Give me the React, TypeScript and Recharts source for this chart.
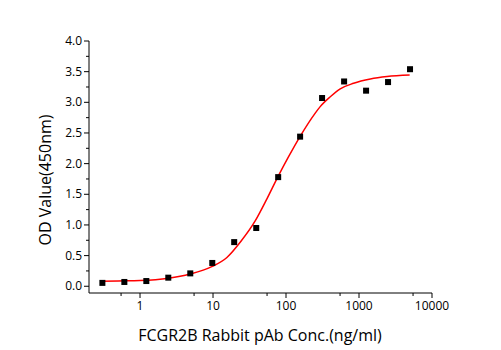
import React from "react";
import { ComposedChart, XAxis, YAxis, Line, Scatter, Label } from "recharts";

// measured points (ng/ml vs OD450)
const concentrations = [0.305, 0.61, 1.22, 2.44, 4.88, 9.77, 19.5, 39.1, 78.1, 156, 312, 625, 1250, 2500, 5000];
const odValues = [0.055, 0.07, 0.085, 0.14, 0.21, 0.38, 0.72, 0.95, 1.78, 2.44, 3.07, 3.34, 3.19, 3.33, 3.54];

// fitted curve
const curveX = [0.3, 0.5, 1, 2.45, 4.85, 9.6, 15.5, 24, 38, 55, 77, 108, 157, 250, 294, 404, 553, 843, 1430, 2420, 4940];
const curveY = [0.082, 0.087, 0.093, 0.13, 0.2, 0.32, 0.47, 0.73, 1.07, 1.43, 1.78, 2.11, 2.45, 2.82, 2.93, 3.09, 3.22, 3.31, 3.38, 3.42, 3.445];

const xMajorTicks = [1, 10, 100, 1000, 10000];
const xMinorTicks = [0.55, 5.5, 55, 550, 5500];
const yMajorTicks = [0, 0.5, 1, 1.5, 2, 2.5, 3, 3.5, 4];
const yMinorTicks = [0.25, 0.75, 1.25, 1.75, 2.25, 2.75, 3.25, 3.75];

const FONT = "'Open Sans', 'DejaVu Sans', sans-serif";

const points = concentrations.map((x, i) => ({ x, y: odValues[i] }));
const curve = curveX.map((x, i) => ({ x, y: curveY[i] }));

function XTick(props: any) {
  const { x, y, payload } = props;
  const major = xMajorTicks.includes(payload.value);
  return (
    <g>
      <line x1={x} x2={x} y1={y} y2={y + (major ? 5 : 3)} stroke="#000" />
      {major && (
        <text x={x} y={y + 17} textAnchor="middle" fontSize={12} fontFamily={FONT} fill="#000">
          {payload.value}
        </text>
      )}
    </g>
  );
}

function YTick(props: any) {
  const { x, y, payload } = props;
  const major = yMajorTicks.includes(payload.value);
  return (
    <g>
      <line x1={x - (major ? 5 : 3)} x2={x} y1={y} y2={y} stroke="#000" />
      {major && (
        <text x={x - 7} y={y + 4} textAnchor="end" fontSize={12} fontFamily={FONT} fill="#000">
          {payload.value.toFixed(1)}
        </text>
      )}
    </g>
  );
}

const Square = (props: any) => (
  <rect x={props.cx - 3} y={props.cy - 3} width={6} height={6} fill="#000" />
);

export default function App() {
  const xTicks = [...xMinorTicks, ...xMajorTicks].sort((a, b) => a - b);
  const yTicks = [...yMajorTicks, ...yMinorTicks].sort((a, b) => a - b);

  return (
    <div style={{ position: "absolute", left: 0, top: 0, width: 501, height: 350, background: "#fff" }}>
      <ComposedChart width={501} height={350} margin={{ top: 41, right: 69, bottom: 27, left: 0 }}>
        <XAxis
          dataKey="x"
          type="number"
          scale="log"
          domain={[0.2, 10000]}
          allowDataOverflow
          ticks={xTicks}
          interval={0}
          height={30}
          tickSize={0}
          tickMargin={0}
          tick={<XTick />}
          axisLine={{ stroke: "#000" }}
        >
          <Label
            content={() => (
              <text x={260} y={341} textAnchor="middle" fontSize={16} fontFamily={FONT} fill="#000">
                FCGR2B Rabbit pAb Conc.(ng/ml)
              </text>
            )}
          />
        </XAxis>
        <YAxis
          dataKey="y"
          type="number"
          domain={[-0.11, 4]}
          allowDataOverflow
          ticks={yTicks}
          interval={0}
          width={89}
          tickSize={0}
          tickMargin={0}
          tick={<YTick />}
          axisLine={{ stroke: "#000" }}
        >
          <Label
            content={() => (
              <text
                x={51}
                y={180}
                transform="rotate(-90 51 180)"
                textAnchor="middle"
                fontSize={16}
                fontFamily={FONT}
                fill="#000"
              >
                OD Value(450nm)
              </text>
            )}
          />
        </YAxis>
        <Line
          data={curve}
          dataKey="y"
          type="monotone"
          stroke="#ff0000"
          strokeWidth={1.5}
          dot={false}
          isAnimationActive={false}
        />
        <Scatter data={points} dataKey="y" shape={<Square />} isAnimationActive={false} />
      </ComposedChart>
    </div>
  );
}
